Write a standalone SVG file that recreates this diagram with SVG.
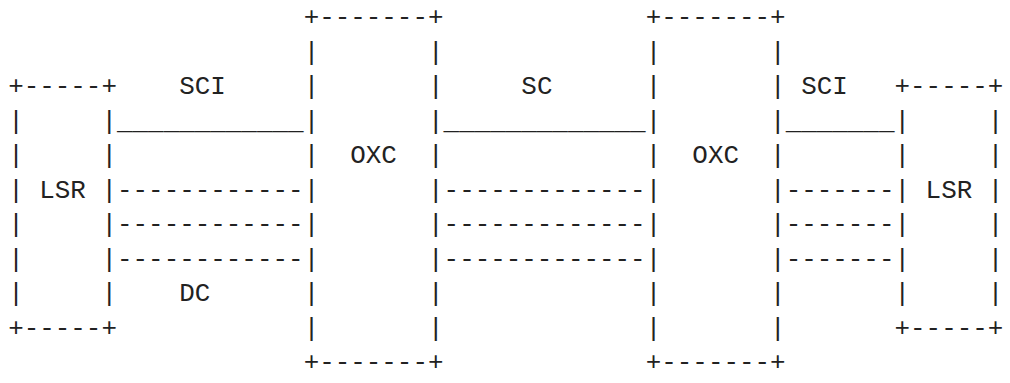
<svg xmlns="http://www.w3.org/2000/svg" width="1010" height="383" viewBox="0 0 1010 383">
  <style>
    text { font-family: "Liberation Mono", "DejaVu Sans Mono", monospace; font-size: 25.9px; fill: #222; white-space: pre; }
  </style>
  <rect width="1010" height="383" fill="#fff"/>
  <!-- grid: column c starts at x = 8.2 + 15.55*c, row r baseline at y = 25 + 34.5*r -->

  <!-- left LSR box, cols 0-6, rows 2-9 -->
  <g id="lsr-left">
    <text x="8.2" y="94" xml:space="preserve">+-----+</text>
    <text x="8.2" y="128.5" xml:space="preserve">|     |</text>
    <text x="8.2" y="163" xml:space="preserve">|     |</text>
    <text x="8.2" y="197.5" xml:space="preserve">| LSR |</text>
    <text x="8.2" y="232" xml:space="preserve">|     |</text>
    <text x="8.2" y="266.5" xml:space="preserve">|     |</text>
    <text x="8.2" y="301" xml:space="preserve">|     |</text>
    <text x="8.2" y="335.5" xml:space="preserve">+-----+</text>
  </g>

  <!-- first OXC, cols 19-27, rows 0-10 -->
  <g id="oxc-1">
    <text x="303.65" y="25" xml:space="preserve">+-------+</text>
    <text x="303.65" y="59.5" xml:space="preserve">|       |</text>
    <text x="303.65" y="94" xml:space="preserve">|       |</text>
    <text x="303.65" y="128.5" xml:space="preserve">|       |</text>
    <text x="303.65" y="163" xml:space="preserve">|  OXC  |</text>
    <text x="303.65" y="197.5" xml:space="preserve">|       |</text>
    <text x="303.65" y="232" xml:space="preserve">|       |</text>
    <text x="303.65" y="266.5" xml:space="preserve">|       |</text>
    <text x="303.65" y="301" xml:space="preserve">|       |</text>
    <text x="303.65" y="335.5" xml:space="preserve">|       |</text>
    <text x="303.65" y="370" xml:space="preserve">+-------+</text>
  </g>

  <!-- second OXC, cols 41-49, rows 0-10 -->
  <g id="oxc-2">
    <text x="645.75" y="25" xml:space="preserve">+-------+</text>
    <text x="645.75" y="59.5" xml:space="preserve">|       |</text>
    <text x="645.75" y="94" xml:space="preserve">|       |</text>
    <text x="645.75" y="128.5" xml:space="preserve">|       |</text>
    <text x="645.75" y="163" xml:space="preserve">|  OXC  |</text>
    <text x="645.75" y="197.5" xml:space="preserve">|       |</text>
    <text x="645.75" y="232" xml:space="preserve">|       |</text>
    <text x="645.75" y="266.5" xml:space="preserve">|       |</text>
    <text x="645.75" y="301" xml:space="preserve">|       |</text>
    <text x="645.75" y="335.5" xml:space="preserve">|       |</text>
    <text x="645.75" y="370" xml:space="preserve">+-------+</text>
  </g>

  <!-- right LSR box, cols 57-63, rows 2-9 -->
  <g id="lsr-right">
    <text x="894.55" y="94" xml:space="preserve">+-----+</text>
    <text x="894.55" y="128.5" xml:space="preserve">|     |</text>
    <text x="894.55" y="163" xml:space="preserve">|     |</text>
    <text x="894.55" y="197.5" xml:space="preserve">| LSR |</text>
    <text x="894.55" y="232" xml:space="preserve">|     |</text>
    <text x="894.55" y="266.5" xml:space="preserve">|     |</text>
    <text x="894.55" y="301" xml:space="preserve">|     |</text>
    <text x="894.55" y="335.5" xml:space="preserve">+-----+</text>
  </g>

  <!-- channels between the boxes: control (solid) and data (dashed) -->
  <g id="links">
    <!-- LSR to first OXC, cols 7-18 -->
    <text x="179.25" y="94">SCI</text>
    <text x="117.05" y="128.5">____________</text>
    <text x="117.05" y="197.5">------------</text>
    <text x="117.05" y="232">------------</text>
    <text x="117.05" y="266.5">------------</text>
    <text x="179.25" y="301">DC</text>
    <!-- OXC to OXC, cols 28-40 -->
    <text x="521.35" y="94">SC</text>
    <text x="443.6" y="128.5">_____________</text>
    <text x="443.6" y="197.5">-------------</text>
    <text x="443.6" y="232">-------------</text>
    <text x="443.6" y="266.5">-------------</text>
    <!-- second OXC to LSR, cols 50-56 -->
    <text x="801.25" y="94">SCI</text>
    <text x="785.7" y="128.5">_______</text>
    <text x="785.7" y="197.5">-------</text>
    <text x="785.7" y="232">-------</text>
    <text x="785.7" y="266.5">-------</text>
  </g>
</svg>
